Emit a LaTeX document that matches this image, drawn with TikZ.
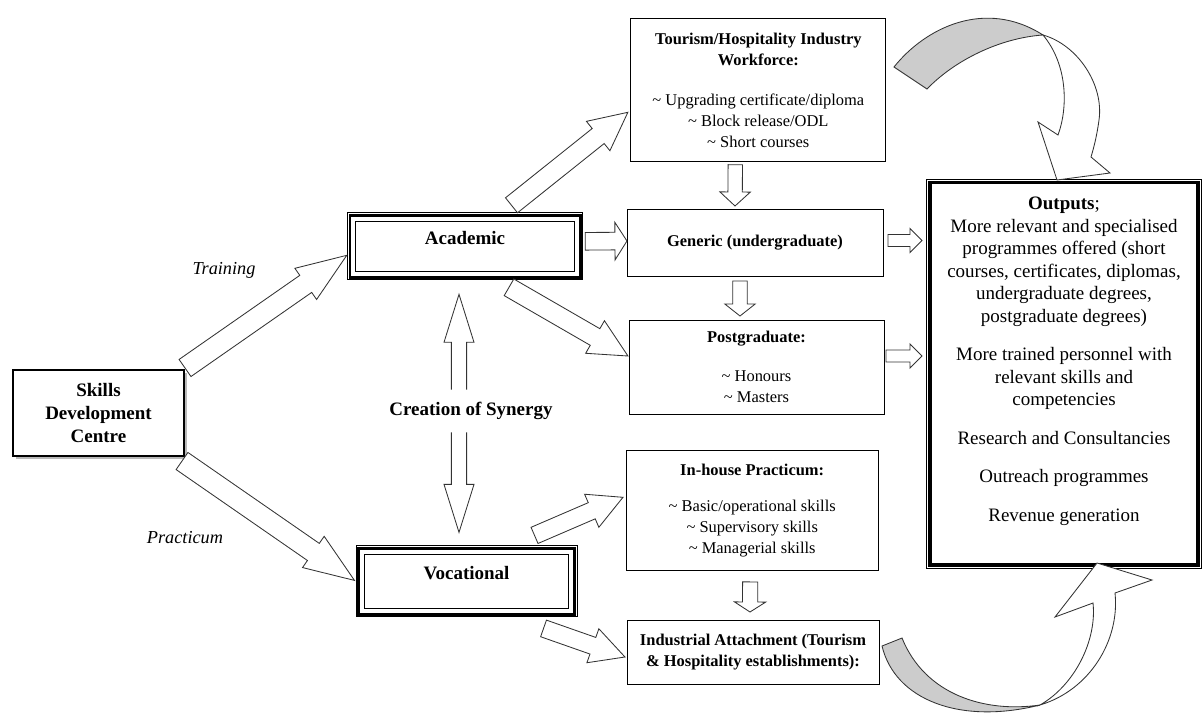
\documentclass[tikz,border=0pt]{standalone}
\usepackage{fontspec}
\setmainfont{Liberation Serif}
\usetikzlibrary{calc,shadows}

% hollow block arrow: tail, tip, shaft half width, head half width, head length
\newcommand{\fatarrow}[6][-- cycle]{%
  \coordinate (fa-a) at (#2);
  \coordinate (fa-b) at (#3);
  \coordinate (fa-h) at ($(fa-b)!#6!(fa-a)$);
  \draw[blockarr] ($(fa-a)!#4!90:(fa-b)$) -- ($(fa-h)!#4!90:(fa-b)$)
    -- ($(fa-h)!#5!90:(fa-b)$) -- (fa-b) -- ($(fa-h)!#5!-90:(fa-b)$)
    -- ($(fa-h)!#4!-90:(fa-b)$) -- ($(fa-a)!#4!-90:(fa-b)$) #1;}

\begin{document}
\begin{tikzpicture}[x=0.025cm,y=-0.025cm,
  infobox/.style={draw,line width=0.6pt,outer sep=0pt,align=center,inner sep=2pt,
                  font=\fontsize{11.7}{15}\selectfont},
  tribox/.style={draw,line width=1.8pt,outer sep=0pt,align=center,text depth=11.6pt,
                 font=\bfseries\fontsize{13.5}{16.5}\selectfont},
  outbox/.style={draw,line width=2.4pt,outer sep=0pt,align=center,text depth=21pt,
                 font=\fontsize{13.5}{16}\selectfont},
  blockarr/.style={draw=black!80,line width=0.6pt,fill=white,line join=miter},
  lbl/.style={font=\itshape\fontsize{13}{15}\selectfont}
]
  \useasboundingbox (0,0) rectangle (1203,717);
  \node[draw,line width=1.9pt,outer sep=0pt,fill=white,minimum width=4.275cm,minimum height=2.15cm,
        align=center,font=\bfseries\fontsize{13.5}{16.7}\selectfont,
        general shadow={shadow xshift=2pt,shadow yshift=-2pt,fill=gray!55}]
        (skills) at (98.5,413) {Skills\\Development\\Centre};
  \node[tribox,minimum width=5.76cm,minimum height=1.55cm] (acad) at (465,246.3) {Academic};
  \node[tribox,minimum width=5.4cm,minimum height=1.65cm] (voc) at (466.5,581.4) {Vocational};
  \foreach \n in {acad,voc}{
    \draw[line width=0.6pt] ([shift={(-2.5,-2.5)}]\n.north west) rectangle ([shift={(2.5,2.5)}]\n.south east);
    \draw[line width=0.6pt] ([shift={(6,6)}]\n.north west) rectangle ([shift={(-6,-6)}]\n.south east);
  }
  \node[infobox,minimum width=6.37cm,minimum height=3.57cm] (tour) at (758.3,90.3)
    {\textbf{Tourism/Hospitality Industry}\\\textbf{Workforce:}\\[13pt]
     \textasciitilde{} Upgrading certificate/diploma\\\textasciitilde{} Block release/ODL\\
     \textasciitilde{} Short courses};
  \node[infobox,minimum width=6.4cm,minimum height=1.675cm] (gen) at (755,242.5)
    {\textbf{Generic (undergraduate)}};
  \node[infobox,minimum width=6.375cm,minimum height=2.35cm] (post) at (756.5,367)
    {\textbf{Postgraduate:}\\[13pt]\textasciitilde{} Honours\\\textasciitilde{} Masters};
  \node[infobox,minimum width=6.31cm,minimum height=2.98cm] (inh) at (752.2,510.3)
    {\textbf{In-house Practicum:}\\[10.5pt]\textasciitilde{} Basic/operational skills\\
     \textasciitilde{} Supervisory skills\\\textasciitilde{} Managerial skills};
  \node[infobox,minimum width=6.3cm,minimum height=1.6cm] (ind) at (753,652)
    {\textbf{Industrial Attachment (Tourism}\\\textbf{\& Hospitality establishments):}};
  \node[outbox,minimum width=6.7cm,minimum height=9.56cm] (out) at (1064,373.8)
    {\textbf{Outputs};\\More relevant and specialised\\programmes offered (short\\
     courses, certificates, diplomas,\\undergraduate degrees,\\postgraduate degrees)\\[11.4pt]
     More trained personnel with\\relevant skills and\\competencies\\[11.4pt]
     Research and Consultancies\\[11.4pt]Outreach programmes\\[11.4pt]Revenue generation};
  \draw[line width=0.6pt] ([shift={(-3.5,-3.5)}]out.north west) rectangle ([shift={(3.5,3.5)}]out.south east);
  \node[font=\bfseries\fontsize{13.5}{16}\selectfont,minimum height=1.05cm,inner sep=0pt]
    (syn) at (471,411) {Creation of Synergy};
  \node[lbl] (train) at (224,270) {Training};
  \node[lbl] (prac) at (185,538) {Practicum};
  % block arrows
  \fatarrow{$(skills.north east)+(1,-2)$}{$(acad.west)+(-3,9)$}{0.26cm}{0.475cm}{1.25cm}
  \fatarrow{$(skills.south east)+(-2,5)$}{$(voc.west)+(-4,-1)$}{0.26cm}{0.475cm}{1.25cm}
  \fatarrow{$(acad.north)+(46.5,-10)$}{$(tour.west)+(-3,22)$}{0.24cm}{0.47cm}{0.95cm}
  \fatarrow{$(acad.east)+(5,-5)$}{$(gen.west)+(0,-1.5)$}{0.22cm}{0.47cm}{0.3cm}
  \fatarrow{$(acad.south)+(44,10)$}{$(post.west)+(-1,-11)$}{0.24cm}{0.47cm}{0.95cm}
  \fatarrow{$(voc.north east)+(-40,-13)$}{$(inh.west)+(-3,-13)$}{0.22cm}{0.45cm}{0.85cm}
  \fatarrow{$(voc.south east)+(-31,14)$}{$(ind.west)+(-2,5)$}{0.22cm}{0.45cm}{0.85cm}
  \fatarrow{$(tour.south)+(-23,3)$}{$(gen.north)+(-20,-3)$}{0.18cm}{0.38cm}{0.35cm}
  \fatarrow{$(gen.south)+(-15,5)$}{$(post.north)+(-16.5,-4)$}{0.18cm}{0.38cm}{0.3cm}
  \fatarrow{$(inh.south)+(-2,12)$}{$(ind.north)+(-3,-8)$}{0.19cm}{0.39cm}{0.25cm}
  \fatarrow{$(gen.east)+(5,-2)$}{$(gen.east -| out.west)+(-8,-2)$}{0.15cm}{0.3cm}{0.3cm}
  \fatarrow{$(post.east)+(2,-11)$}{$(post.east -| out.west)+(-8,-11)$}{0.15cm}{0.3cm}{0.3cm}
  \fatarrow[]{$(syn.north)+(-12,0)$}{$(acad.south)+(-6,17)$}{0.19cm}{0.375cm}{1.2cm}
  \fatarrow[]{$(syn.south)+(-12,0)$}{$(voc.north)+(-7.5,-16)$}{0.19cm}{0.375cm}{1.2cm}
  % curved arrows into the outputs
  \draw[blockarr,fill=gray!40] (894,67) .. controls (925,28) and (985,-2) .. (1043,35)
    .. controls (1000,38) and (955,60) .. (927,89) -- cycle;
  \draw[blockarr] (1043,35) .. controls (1078,45) and (1104,85) .. (1099,120)
    .. controls (1097,135) and (1094,147) .. (1091,157) -- (1110,173) -- (1057,180)
    -- (1038,122) -- (1058,135) .. controls (1068,108) and (1068,65) .. (1043,35) -- cycle;
  \draw[blockarr,fill=gray!40] (882,646) .. controls (895,700) and (960,725) .. (1040,705)
    .. controls (985,713) and (925,695) .. (902,638) -- cycle;
  \draw[blockarr] (1040,705) .. controls (1090,690) and (1120,640) .. (1115,593)
    -- (1152,580) -- (1097,563) -- (1055,617) -- (1093,603)
    .. controls (1097,640) and (1075,685) .. (1040,705) -- cycle;
\end{tikzpicture}
\end{document}
